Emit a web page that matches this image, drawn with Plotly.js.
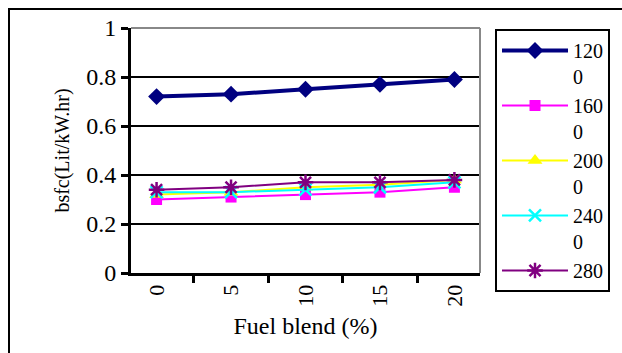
<!DOCTYPE html>
<html>
<head>
<meta charset="utf-8">
<script src="https://cdn.plot.ly/plotly-3.0.1.min.js"></script>
<style>html,body{margin:0;padding:0;background:#fff;} #chart{width:622px;height:353px;}</style>
</head>
<body>
<div id="chart"></div>
<script>
const blends = ['0', '5', '10', '15', '20'];
const seriesNames = ['1200', '1600', '2000', '2400', '2800'];
const legendLabels = ['120<br>0', '160<br>0', '200<br>0', '240<br>0', '280'];
const s1200 = [0.72, 0.73, 0.75, 0.77, 0.79];
const s1600 = [0.30, 0.31, 0.32, 0.33, 0.35];
const s2000 = [0.32, 0.33, 0.35, 0.36, 0.38];
const s2400 = [0.33, 0.33, 0.34, 0.35, 0.37];
const s2800 = [0.34, 0.35, 0.37, 0.37, 0.38];
const yTicks = [0, 0.2, 0.4, 0.6, 0.8, 1];
const yTickText = ['0', '0.2', '0.4', '0.6', '0.8', '1'];

const values = [s1200, s1600, s2000, s2400, s2800];
const styles = [
  {color: '#000080', width: 4, symbol: 'diamond', size: 13},
  {color: '#FF00FF', width: 2, symbol: 'square', size: 11},
  {color: '#FFFF00', width: 2, symbol: 'triangle-up', size: 13},
  {color: '#00FFFF', width: 2, symbol: 'x-thin-open', size: 12},
  {color: '#800080', width: 2, symbol: 'asterisk-open', size: 13}
];

const traces = values.map((v, i) => ({
  type: 'scatter', mode: 'lines+markers',
  x: blends, y: v, name: legendLabels[i],
  line: {color: styles[i].color, width: styles[i].width},
  marker: {symbol: styles[i].symbol, size: styles[i].size, color: styles[i].color,
           line: {color: styles[i].color, width: (i >= 3 ? 2.5 : 0)}}
}));

const font = {family: '"Liberation Serif", "Times New Roman", serif', color: '#000'};

const layout = {
  width: 622, height: 353,
  margin: {l: 131, r: 142, t: 28, b: 80, autoexpand: false},
  paper_bgcolor: '#fff', plot_bgcolor: '#fff',
  font: Object.assign({size: 22}, font),
  showlegend: true,
  legend: {
    x: 1.043, y: 0.996, xanchor: 'left', yanchor: 'top',
    bordercolor: '#000', borderwidth: 2, bgcolor: '#fff',
    font: Object.assign({size: 20}, font), valign: 'top',
    itemwidth: 66, tracegroupgap: 0, maxheight: 400
  },
  xaxis: {
    type: 'category', tickson: 'boundaries',
    ticks: 'outside', ticklen: 7, tickwidth: 3, tickcolor: '#000',
    showline: true, linecolor: '#000', linewidth: 3,
    showgrid: false, tickangle: -90, automargin: false,
    tickfont: Object.assign({size: 22}, font),
    title: {text: 'Fuel blend (%)', font: Object.assign({size: 24}, font), standoff: 12}
  },
  yaxis: {
    range: [0, 1], tickvals: yTicks, ticktext: yTickText,
    ticks: 'outside', ticklen: 7, tickwidth: 3, tickcolor: '#000',
    showline: true, linecolor: '#000', linewidth: 3, automargin: false,
    showgrid: true, gridcolor: '#000', gridwidth: 2, zeroline: false,
    tickfont: Object.assign({size: 24}, font),
    title: {text: 'bsfc(Lit/kW.hr)', font: Object.assign({size: 20}, font), standoff: 12}
  },
  shapes: [
    {type: 'line', xref: 'paper', yref: 'paper', x0: 0, x1: 1, y0: 1, y1: 1,
     line: {color: '#888', width: 2}, layer: 'above'},
    {type: 'line', xref: 'paper', yref: 'paper', x0: 1, x1: 1, y0: 0, y1: 1,
     line: {color: '#888', width: 2}, layer: 'above'},
    {type: 'rect', xref: 'paper', yref: 'paper',
     x0: (9 - 131) / 349, x1: (640 - 131) / 349, y0: (273 - 370) / 245, y1: (273 - 9) / 245,
     line: {color: '#000', width: 2}, fillcolor: 'rgba(0,0,0,0)', layer: 'below'}
  ]
};

Plotly.newPlot('chart', traces, layout, {staticPlot: true, displayModeBar: false});
</script>
</body>
</html>
